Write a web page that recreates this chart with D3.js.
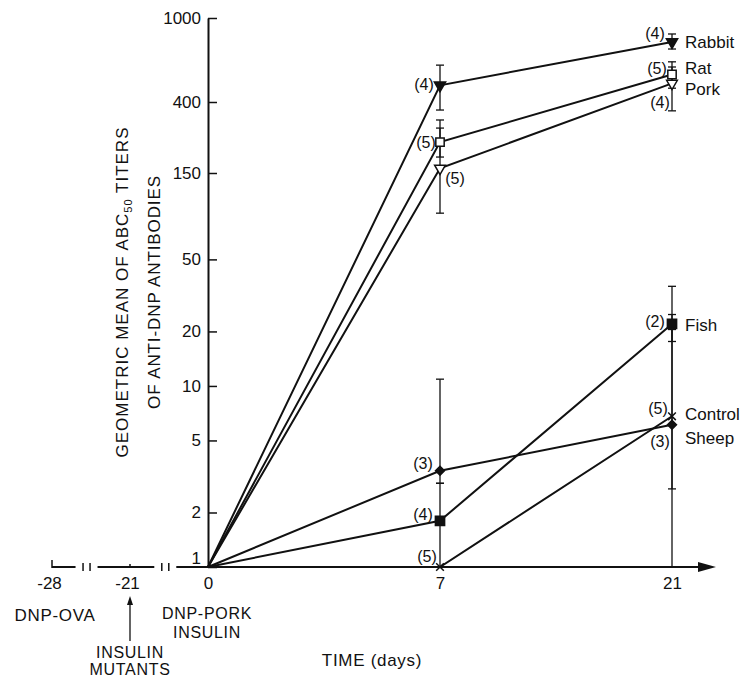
<!DOCTYPE html>
<html>
<head>
<meta charset="utf-8">
<script src="https://cdn.jsdelivr.net/npm/d3@7"></script>
<style>
  html, body { margin: 0; padding: 0; background: #fff; }
  svg { display: block; }
  text { font-family: "Liberation Sans", Arial, Helvetica, sans-serif; fill: #111; }
</style>
</head>
<body>
<svg id="chart" width="743" height="679"></svg>
<script>
// Chart values.
const DAYS = [0, 7, 21];
const SERIES_NAMES = ["Rabbit", "Rat", "Pork", "Fish", "Control", "Sheep"];

const RABBIT_TITERS = [1, 480, 770];
const RAT_TITERS = [1, 230, 540];
const PORK_TITERS = [1, 160, 490];
const FISH_TITERS = [1, 1.8, 22];
const CONTROL_TITERS = [1, 1, 6.8];
const SHEEP_TITERS = [1, 3.4, 6.1];

const RABBIT_ERRORS = [null, [358, 598], [713, 840]];
const RAT_ERRORS = [null, [187, 312], [465, 620]];
const PORK_ERRORS = [null, [90, 279], [354, 586]];
const FISH_ERRORS = [null, [1, 2.9], [17.6, 35.5]];
const CONTROL_ERRORS = [null, null, [1, 24.8]];
const SHEEP_ERRORS = [null, [2.9, 10.9], [2.7, 20.5]];

const RABBIT_COUNTS = [null, 4, 4];
const RAT_COUNTS = [null, 5, 5];
const PORK_COUNTS = [null, 5, 4];
const FISH_COUNTS = [null, 4, 2];
const CONTROL_COUNTS = [null, 5, 5];
const SHEEP_COUNTS = [null, 3, 3];

const Y_TICKS = [1, 2, 5, 10, 20, 50, 150, 400, 1000];
const X_TICKS = [-28, -21, 0, 7, 21];
const X_BREAKS = [-24.9, -11.5];

const TITERS = [RABBIT_TITERS, RAT_TITERS, PORK_TITERS, FISH_TITERS, CONTROL_TITERS, SHEEP_TITERS];
const ERRORS = [RABBIT_ERRORS, RAT_ERRORS, PORK_ERRORS, FISH_ERRORS, CONTROL_ERRORS, SHEEP_ERRORS];
const COUNTS = [RABBIT_COUNTS, RAT_COUNTS, PORK_COUNTS, FISH_COUNTS, CONTROL_COUNTS, SHEEP_COUNTS];

// Layout: marker look, (n) label offsets per day, name label offset.
const MARKERS = {
  Rabbit: {type: d3.symbolTriangle, size: 55, fill: "#111", rotate: 180},
  Rat: {type: d3.symbolSquare, size: 70, fill: "#fff", rotate: 0},
  Pork: {type: d3.symbolTriangle, size: 50, fill: "#fff", rotate: 180},
  Fish: {type: d3.symbolSquare, size: 85, fill: "#111", rotate: 0},
  Control: {type: d3.symbolTimes || d3.symbolX, size: 40, fill: "none", rotate: 0},
  Sheep: {type: d3.symbolSquare, size: 40, fill: "#111", rotate: 45}
};
const COUNT_OFFSETS = {
  Rabbit: [null, [-16, -1], [-17, -9]],
  Rat: [null, [-14, 0], [-15, -6]],
  Pork: [null, [15, 10], [-12, 19]],
  Fish: [null, [-17, -7], [-17, -3]],
  Control: [null, [-13, -11], [-14, -8]],
  Sheep: [null, [-17, -8], [-12, 16]]
};
const NAME_OFFSETS = {Rabbit: 0, Rat: -7, Pork: 5, Fish: 1, Control: -2, Sheep: 13};

const svg = d3.select("#chart");
svg.append("rect").attr("width", 743).attr("height", 679).attr("fill", "#fff");

const xScale = d3.scaleLinear()
  .domain(X_TICKS)
  .range([52, 130, 208, 440, 672]);

const yScale = d3.scaleLog()
  .domain([1, 150, 400, 1000])
  .range([567, 173, 102, 18]);

const y0 = yScale(1);

// Vertical axis with ticks pointing inward and labels on the left
const yAxis = d3.axisLeft(yScale)
  .tickValues(Y_TICKS)
  .tickFormat(d3.format("d"))
  .tickSizeInner(-9)
  .tickSizeOuter(0)
  .tickPadding(7);

const yAxisG = svg.append("g")
  .attr("transform", `translate(${xScale(0)},0)`)
  .call(yAxis);
yAxisG.select(".domain").attr("stroke", "#111").attr("stroke-width", 2);
yAxisG.selectAll(".tick line").attr("stroke", "#111").attr("stroke-width", 1.5);
yAxisG.selectAll(".tick text")
  .attr("font-size", 17)
  .attr("fill", "#111")
  .attr("font-family", null)
  .attr("y", d => d === 1 ? -9 : 0);

// Horizontal axis labels
const xAxis = d3.axisBottom(xScale)
  .tickValues(X_TICKS)
  .tickFormat(d => String(d))
  .tickSize(0)
  .tickPadding(10);

const xAxisG = svg.append("g")
  .attr("transform", `translate(0,${y0})`)
  .call(xAxis);
xAxisG.select(".domain").remove();
xAxisG.selectAll(".tick text")
  .attr("font-size", 17)
  .attr("fill", "#111")
  .attr("font-family", null)
  .attr("dx", d => d < 0 ? -3 : 0);

// Axis line with two breaks and an arrow at the end
const breakX = X_BREAKS.map(xScale);
const axisEnd = xScale(21) + 30;
const segments = [
  [xScale(-28), breakX[0] - 11],
  [breakX[0] + 11, breakX[1] - 11],
  [breakX[1] + 11, axisEnd]
];
svg.append("g").selectAll("line")
  .data(segments)
  .join("line")
  .attr("x1", d => d[0]).attr("x2", d => d[1])
  .attr("y1", y0).attr("y2", y0)
  .attr("stroke", "#111").attr("stroke-width", 2);

svg.append("g").selectAll("line")
  .data(breakX.flatMap(x => [x - 3.5, x + 3.5]))
  .join("line")
  .attr("x1", d => d).attr("x2", d => d)
  .attr("y1", y0 - 4).attr("y2", y0 + 4)
  .attr("stroke", "#111").attr("stroke-width", 1.5);

svg.append("line")
  .attr("x1", xScale(-28)).attr("x2", xScale(-28))
  .attr("y1", y0 - 7).attr("y2", y0 + 1)
  .attr("stroke", "#111").attr("stroke-width", 1.5);
svg.append("line")
  .attr("x1", xScale(-21)).attr("x2", xScale(-21))
  .attr("y1", y0 - 3).attr("y2", y0)
  .attr("stroke", "#111").attr("stroke-width", 1.5);

svg.append("path")
  .attr("d", `M${axisEnd - 4},${y0 - 5} L${axisEnd + 14},${y0} L${axisEnd - 4},${y0 + 5} Z`)
  .attr("fill", "#111");

// Error bars
const errGroup = svg.append("g");
SERIES_NAMES.forEach((name, s) => {
  ERRORS[s].forEach((err, i) => {
    if (!err) return;
    const x = xScale(DAYS[i]);
    errGroup.append("line")
      .attr("x1", x).attr("x2", x)
      .attr("y1", yScale(err[0])).attr("y2", yScale(err[1]))
      .attr("stroke", "#111").attr("stroke-width", 1.3);
    err.forEach(v => {
      errGroup.append("line")
        .attr("x1", x - 4).attr("x2", x + 4)
        .attr("y1", yScale(v)).attr("y2", yScale(v))
        .attr("stroke", "#111").attr("stroke-width", 1.3);
    });
  });
});

// Series lines
const line = d3.line()
  .x((d, i) => xScale(DAYS[i]))
  .y(d => yScale(d));

svg.append("g").selectAll("path")
  .data(TITERS)
  .join("path")
  .attr("d", line)
  .attr("fill", "none")
  .attr("stroke", "#111")
  .attr("stroke-width", 2);

// Markers (none at day 0 where all series start at 1)
const markGroup = svg.append("g");
SERIES_NAMES.forEach((name, s) => {
  const m = MARKERS[name];
  TITERS[s].forEach((v, i) => {
    if (i === 0) return;
    markGroup.append("path")
      .attr("d", d3.symbol().type(m.type).size(m.size)())
      .attr("transform", `translate(${xScale(DAYS[i])},${yScale(v)}) rotate(${m.rotate})`)
      .attr("fill", m.fill)
      .attr("stroke", "#111")
      .attr("stroke-width", 1.5);
  });
});

// Group sizes (n)
const countGroup = svg.append("g");
SERIES_NAMES.forEach((name, s) => {
  COUNTS[s].forEach((n, i) => {
    if (n === null) return;
    const off = COUNT_OFFSETS[name][i];
    countGroup.append("text")
      .attr("x", xScale(DAYS[i]) + off[0])
      .attr("y", yScale(TITERS[s][i]) + off[1])
      .attr("dy", "0.36em")
      .attr("text-anchor", "middle")
      .attr("font-size", 16)
      .text(`(${n})`);
  });
});

// Series names at the right end
svg.append("g").selectAll("text")
  .data(SERIES_NAMES)
  .join("text")
  .attr("x", xScale(21) + 13)
  .attr("y", (d, s) => yScale(TITERS[s][2]) + NAME_OFFSETS[d])
  .attr("dy", "0.36em")
  .attr("font-size", 17)
  .text(d => d);

// Vertical axis title
const titleCenter = 292;
const title1 = svg.append("text")
  .attr("transform", `translate(128,${titleCenter}) rotate(-90)`)
  .attr("text-anchor", "middle")
  .attr("font-size", 17)
  .attr("letter-spacing", 1);
title1.append("tspan").text("GEOMETRIC MEAN OF ABC");
title1.append("tspan").attr("font-size", 11).attr("dy", 4).text("50");
title1.append("tspan").attr("dy", -4).text(" TITERS");

svg.append("text")
  .attr("transform", `translate(160,${titleCenter}) rotate(-90)`)
  .attr("text-anchor", "middle")
  .attr("font-size", 17)
  .attr("letter-spacing", 0.9)
  .text("OF ANTI-DNP ANTIBODIES");

// Notes under the time axis
const notes = [
  {x: xScale(-28) + 3, y: 621, size: 17, text: "DNP-OVA"},
  {x: xScale(0) - 1, y: 619, size: 16, text: "DNP-PORK"},
  {x: xScale(0) - 1, y: 638, size: 16, text: "INSULIN"},
  {x: xScale(-21), y: 658, size: 16, text: "INSULIN"},
  {x: xScale(-21), y: 675, size: 16, text: "MUTANTS"},
  {x: 372, y: 666, size: 17, text: "TIME (days)"}
];
svg.append("g").selectAll("text")
  .data(notes)
  .join("text")
  .attr("x", d => d.x)
  .attr("y", d => d.y)
  .attr("text-anchor", "middle")
  .attr("font-size", d => d.size)
  .attr("letter-spacing", 0.7)
  .text(d => d.text);

const ax = xScale(-21);
svg.append("line")
  .attr("x1", ax).attr("x2", ax)
  .attr("y1", 641).attr("y2", 601)
  .attr("stroke", "#111").attr("stroke-width", 1.3);
svg.append("path")
  .attr("d", `M${ax - 3},${605} L${ax},${596} L${ax + 3},${605} Z`)
  .attr("fill", "#111");
</script>
</body>
</html>
